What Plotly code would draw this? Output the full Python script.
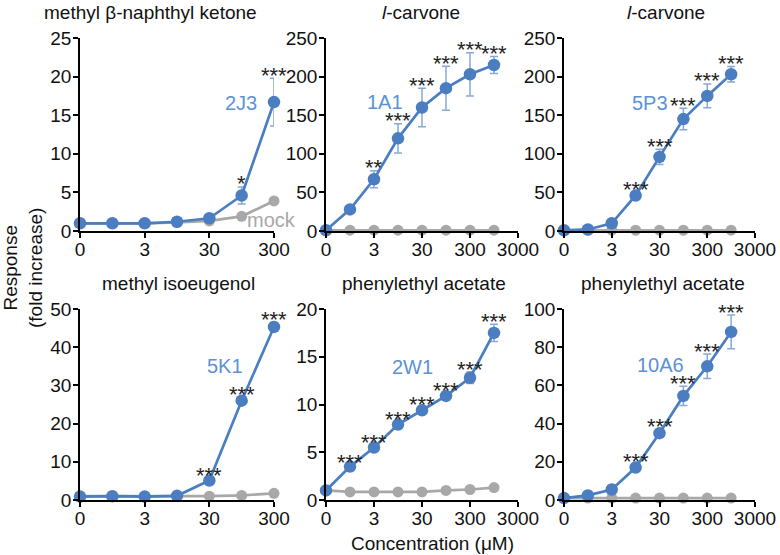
import plotly.graph_objects as go
from plotly.subplots import make_subplots

# ---------------- data ----------------
concentrations = [0, 1, 3, 10, 30, 100, 300, 1000]   # µM, plotted at equal spacing
tick_labels = ["0", "3", "30", "300", "3000"]

titles = ["methyl β-naphthyl ketone", "<i>l</i>-carvone", "<i>l</i>-carvone",
          "methyl isoeugenol", "phenylethyl acetate", "phenylethyl acetate"]
receptors = ["2J3", "1A1", "5P3", "5K1", "2W1", "10A6"]

resp_2J3 = [1.0, 1.0, 1.0, 1.2, 1.65, 4.6, 16.7]
err_2J3 = [0.1, 0.1, 0.1, 0.15, 0.3, 1.1, 3.1]
mock_2J3 = [1.0, 1.0, 1.0, 1.1, 1.3, 1.9, 3.9]
stars_2J3 = ["", "", "", "", "", "*", "***"]

resp_1A1 = [1, 28, 67, 120, 160, 185, 203, 215]
err_1A1 = [0, 2, 11, 19, 25, 28.5, 28, 11]
mock_1A1 = [1, 1, 1, 1, 1, 1, 1, 1]
stars_1A1 = ["", "", "**", "***", "***", "***", "***", "***"]

resp_5P3 = [1, 2, 10, 46, 96, 145, 175, 203]
err_5P3 = [0, 0.5, 1, 4, 10, 14, 15.5, 10]
mock_5P3 = [1, 1, 1, 1, 1, 1, 1, 1]
stars_5P3 = ["", "", "", "***", "***", "***", "***", "***"]

resp_5K1 = [0.9, 1.0, 0.9, 1.1, 5.1, 26.0, 45.3]
err_5K1 = [0.1, 0.1, 0.1, 0.1, 0.4, 0.8, 1.2]
mock_5K1 = [1.0, 1.0, 0.9, 1.0, 1.0, 1.2, 1.75]
stars_5K1 = ["", "", "", "", "***", "***", "***"]

resp_2W1 = [1.0, 3.5, 5.5, 7.9, 9.4, 10.9, 12.8, 17.5]
err_2W1 = [0.05, 0.15, 0.2, 0.2, 0.25, 0.25, 0.6, 0.9]
mock_2W1 = [1.0, 0.85, 0.85, 0.85, 0.85, 1.0, 1.1, 1.3]
stars_2W1 = ["", "***", "***", "***", "***", "***", "***", "***"]

resp_10A6 = [1, 2.4, 5.5, 17, 35, 54.5, 70, 88]
err_10A6 = [0.1, 0.3, 0.5, 1.5, 2, 5, 6.4, 8.8]
mock_10A6 = [1, 1, 1, 1, 1, 1, 1, 1]
stars_10A6 = ["", "", "", "***", "***", "***", "***", "***"]

y_max = [25, 250, 250, 50, 20, 100]
y_dtick = [5, 50, 50, 10, 5, 20]

# ---------------- styling / layout ----------------
BLUE = "#4A7EC1"
ERR = "#86A9D9"
LABEL = "#5B92D6"
GRAY = "#A8A8A8"
FONT = "Liberation Sans, Arial, sans-serif"

panels = [
    (resp_2J3, err_2J3, mock_2J3, stars_2J3),
    (resp_1A1, err_1A1, mock_1A1, stars_1A1),
    (resp_5P3, err_5P3, mock_5P3, stars_5P3),
    (resp_5K1, err_5K1, mock_5K1, stars_5K1),
    (resp_2W1, err_2W1, mock_2W1, stars_2W1),
    (resp_10A6, err_10A6, mock_10A6, stars_10A6),
]

W, H = 780, 555
x_px = [(80, 274), (326, 518), (564, 755)]
y_px = [(38, 231), (309, 500)]

fig = make_subplots(rows=2, cols=3)

annotations = []
for i, (resp, err, mock, stars) in enumerate(panels):
    r, c = i // 3 + 1, i % 3 + 1
    n = len(resp)
    xs = list(range(n))
    fig.add_trace(go.Scatter(x=xs, y=mock, mode="lines+markers",
                             line=dict(color=GRAY, width=2.7),
                             marker=dict(color=GRAY, size=11),
                             cliponaxis=False, showlegend=False), row=r, col=c)
    fig.add_trace(go.Scatter(x=xs, y=resp, mode="lines+markers",
                             line=dict(color=BLUE, width=2.7),
                             marker=dict(color=BLUE, size=12.5),
                             error_y=dict(type="data", array=err, color=ERR,
                                          thickness=1.5, width=4),
                             cliponaxis=False, showlegend=False), row=r, col=c)
    ax = "" if i == 0 else str(i + 1)
    xr = n - 1 if n == 7 else 8
    nt = 4 if n == 7 else 5
    fig.update_xaxes(range=[0, xr], tickvals=[2 * k for k in range(nt)],
                     ticktext=tick_labels[:nt], row=r, col=c)
    fig.update_yaxes(range=[0, y_max[i]], dtick=y_dtick[i], tick0=0, row=r, col=c)
    x0, x1 = x_px[c - 1]
    yt, yb = y_px[r - 1]
    fig.layout["xaxis" + ax].domain = [x0 / W, x1 / W]
    fig.layout["yaxis" + ax].domain = [1 - yb / H, 1 - yt / H]
    for k, s in enumerate(stars):
        if s:
            annotations.append(dict(x=k, y=resp[k] + err[k], xref="x" + ax, yref="y" + ax,
                                    text=s, showarrow=False, yanchor="middle", yshift=3,
                                    font=dict(size=22, color="#222222", family=FONT)))

fig.update_xaxes(showgrid=False, zeroline=False, showline=True, linecolor="black", linewidth=1.5,
                 ticks="outside", ticklen=5, tickwidth=1.5, tickcolor="black", automargin=False,
                 ticklabelstandoff=-5,
                 tickfont=dict(size=19, color="#111111", family=FONT))
fig.update_yaxes(showgrid=False, zeroline=False, showline=True, linecolor="black", linewidth=1.5,
                 ticks="outside", ticklen=5, tickwidth=1.5, tickcolor="black", automargin=False,
                 ticklabelstandoff=-2,
                 tickfont=dict(size=19, color="#111111", family=FONT))

# panel titles
title_pos = [(150, 12), (421, 12), (666, 12), (178, 283), (424, 283), (663, 283)]
for t, (tx, ty) in zip(titles, title_pos):
    annotations.append(dict(x=tx / W, y=1 - ty / H, xref="paper", yref="paper", text=t,
                            showarrow=False, xanchor="center", yanchor="middle",
                            font=dict(size=19, color="#111111", family=FONT)))

# receptor labels
label_pos = [(241, 103), (385, 102), (650, 103), (225, 366), (412, 367), (660, 365)]
for t, (tx, ty) in zip(receptors, label_pos):
    annotations.append(dict(x=tx / W, y=1 - ty / H, xref="paper", yref="paper", text=t,
                            showarrow=False, xanchor="center", yanchor="middle",
                            font=dict(size=20, color=LABEL, family=FONT)))

annotations.append(dict(x=271 / W, y=1 - 220 / H, xref="paper", yref="paper", text="mock",
                        showarrow=False, xanchor="center", yanchor="middle",
                        font=dict(size=20, color=GRAY, family=FONT)))

annotations.append(dict(x=23 / W, y=1 - 268 / H, xref="paper", yref="paper",
                        text="Response<br>(fold increase)", textangle=-90,
                        showarrow=False, xanchor="center", yanchor="middle",
                        font=dict(size=19, color="#111111", family=FONT)))
annotations.append(dict(x=432 / W, y=1 - 543 / H, xref="paper", yref="paper",
                        text="Concentration (μM)",
                        showarrow=False, xanchor="center", yanchor="middle",
                        font=dict(size=19, color="#111111", family=FONT)))

fig.update_layout(width=W, height=H,
                  margin=dict(l=0, r=0, t=0, b=0, pad=0, autoexpand=False),
                  plot_bgcolor="white", paper_bgcolor="white",
                  annotations=annotations, font=dict(family=FONT))

fig.write_html("out.html", config={"displayModeBar": False},
               post_script="document.body.style.margin='0px';")
